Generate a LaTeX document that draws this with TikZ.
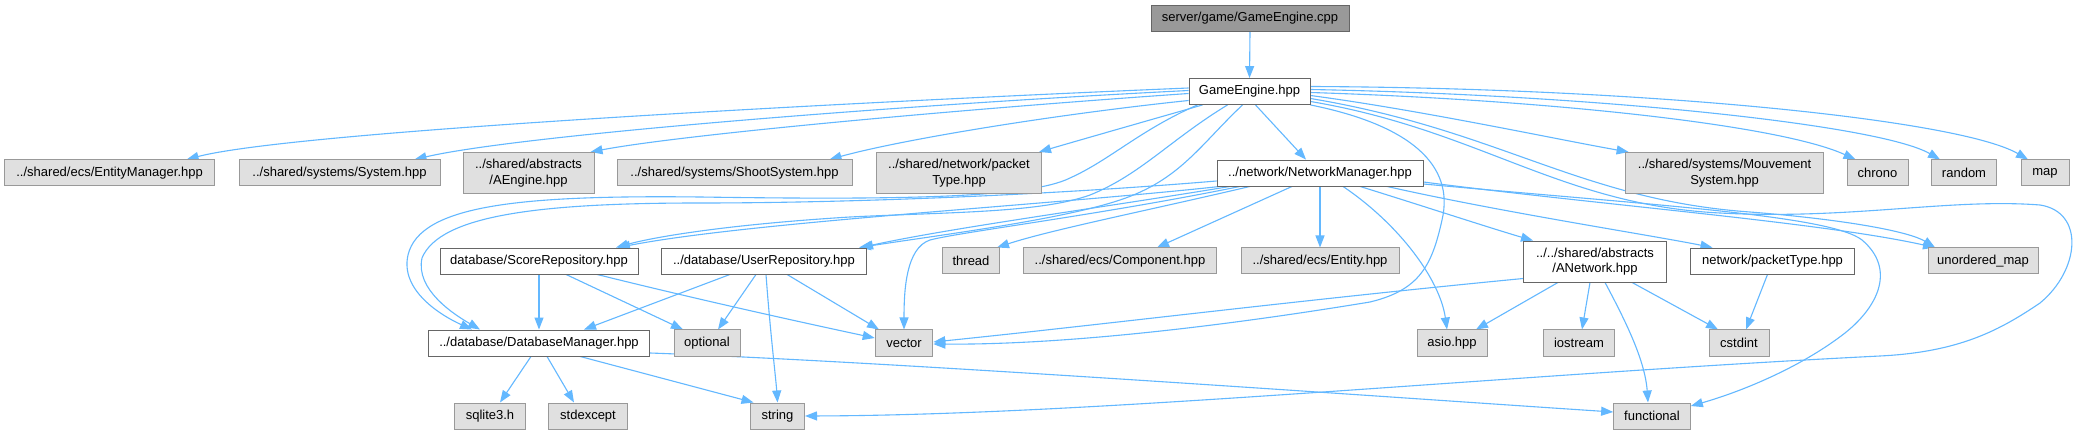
\documentclass[tikz,border=0pt]{standalone}
\usepackage{fontspec}
\setmainfont{Liberation Sans}
\usetikzlibrary{arrows.meta}
\definecolor{edgec}{HTML}{63B8FF}
\definecolor{greyfill}{HTML}{E0E0E0}
\definecolor{greydraw}{HTML}{999999}
\definecolor{whitedraw}{HTML}{666666}
\definecolor{rootfill}{HTML}{999999}
\pgfdeclarelayer{bg}
\pgfsetlayers{bg,main}
\begin{document}
\begin{tikzpicture}[x=1pt,y=-1pt,
  box/.style={rectangle, inner sep=0pt, font=\fontsize{13}{15.3}\selectfont, align=center, text=black},
  ext/.style={box, fill=greyfill, draw=greydraw, line width=1pt},
  loc/.style={box, fill=white, draw=whitedraw, line width=0.9pt},
  rootn/.style={box, fill=rootfill, draw=whitedraw, line width=0.9pt},
  one/.style={minimum height=26pt},
  two/.style={minimum height=41pt},
  dep/.style={draw=edgec, line width=1.1pt, -{Triangle[length=12pt,width=9pt]}},
]
\useasboundingbox (0,0) rectangle (2079,435);
\begin{pgfonlayer}{bg}
\fill[white] (0,0) rectangle (2079,435);
\end{pgfonlayer}

% nodes
\node[rootn, one, minimum width=198pt] (cpp) at (1250,18) {server/game/GameEngine.cpp};
\node[loc, one, minimum width=121pt] (ge) at (1249.5,91.5) {GameEngine.hpp};
\node[ext, one, minimum width=210pt] (em) at (109.6,173) {../shared/ecs/EntityManager.hpp};
\node[ext, one, minimum width=201pt] (sys) at (339.5,173) {../shared/systems/System.hpp};
\node[ext, two, minimum width=131pt] (aeng) at (528.5,173) {../shared/abstracts\\/AEngine.hpp};
\node[ext, one, minimum width=235pt] (shoot) at (734.5,173) {../shared/systems/ShootSystem.hpp};
\node[ext, two, minimum width=165.5pt] (pkt) at (959,173) {../shared/network/packet\\Type.hpp};
\node[loc, one, minimum width=206pt] (nm) at (1320,173) {../network/NetworkManager.hpp};
\node[ext, two, minimum width=198pt] (mouv) at (1724.6,173) {../shared/systems/Mouvement\\System.hpp};
\node[ext, one, minimum width=61pt] (chrono) at (1877.5,173) {chrono};
\node[ext, one, minimum width=64.6pt] (random) at (1964,173) {random};
\node[ext, one, minimum width=48pt] (map) at (2045,173) {map};
\node[loc, one, minimum width=198pt] (score) at (539,261) {database/ScoreRepository.hpp};
\node[loc, one, minimum width=204.5pt] (user) at (764,261) {../database/UserRepository.hpp};
\node[ext, one, minimum width=57pt] (thread) at (971,261) {thread};
\node[ext, one, minimum width=193pt] (comp) at (1120,261) {../shared/ecs/Component.hpp};
\node[ext, one, minimum width=158pt] (ent) at (1320,261) {../shared/ecs/Entity.hpp};
\node[loc, two, minimum width=142.6pt] (anet) at (1595,261.5) {../../shared/abstracts\\/ANetwork.hpp};
\node[loc, one, minimum width=164pt] (npkt) at (1772.5,261) {network/packetType.hpp};
\node[ext, one, minimum width=110pt] (umap) at (1983,261) {unordered\_map};
\node[loc, one, minimum width=221pt] (db) at (539,343) {../database/DatabaseManager.hpp};
\node[ext, one, minimum width=66pt] (opt) at (707,343) {optional};
\node[ext, one, minimum width=57.6pt] (vec) at (904,343) {vector};
\node[ext, one, minimum width=70pt] (asio) at (1452,343) {asio.hpp};
\node[ext, one, minimum width=71pt] (ios) at (1579,343) {iostream};
\node[ext, one, minimum width=60pt] (cstd) at (1739,343) {cstdint};
\node[ext, one, minimum width=70.5pt] (sqlite) at (490,416) {sqlite3.h};
\node[ext, one, minimum width=78.6pt] (stdexc) at (588,416) {stdexcept};
\node[ext, one, minimum width=54pt] (str) at (777.5,416) {string};
\node[ext, one, minimum width=76.7pt] (func) at (1652,416) {functional};

\begin{pgfonlayer}{bg}
% root
\draw[dep] (cpp.south) -- (ge.north);
% GameEngine.hpp
\draw[dep] ([yshift=3.5pt]ge.west) .. controls (900,100) and (300,130) .. ([xshift=77pt]em.north);
\draw[dep] ([yshift=1pt]ge.west) .. controls (900,105) and (520,135) .. ([xshift=75pt]sys.north);
\draw[dep] ([yshift=-2pt]ge.west) .. controls (950,110) and (680,135) .. ([xshift=62pt]aeng.north);
\draw[dep] ([yshift=-9pt]ge.west) .. controls (1050,115) and (900,140) .. ([xshift=95pt]shoot.north);
\draw[dep] ([xshift=-47pt]ge.south) .. controls (1150,120) and (1080,140) .. ([xshift=80pt]pkt.north);
\draw[dep] ([xshift=6pt]ge.south) -- ([xshift=-14pt]nm.north);
\draw[dep] ([yshift=-4pt]ge.east) .. controls (1420,110) and (1560,140) .. ([xshift=-96pt]mouv.north);
\draw[dep] ([yshift=-1pt]ge.east) .. controls (1550,100) and (1780,125) .. ([xshift=-22pt]chrono.north);
\draw[dep] ([yshift=2pt]ge.east) .. controls (1600,95) and (1880,125) .. ([xshift=-24pt]random.north);
\draw[dep] ([yshift=5pt]ge.east) .. controls (1650,88) and (1960,120) .. ([xshift=-17pt]map.north);
\draw[dep] ([yshift=-7pt]ge.east) .. controls (1500,130) and (1580,200) .. (1750,212) .. controls (1850,220) and (1910,232) .. ([xshift=-48pt]umap.north);
\draw[dep] ([yshift=-10pt]ge.east) .. controls (1480,130) and (1560,205) .. (1720,213) .. controls (1850,220) and (1950,198) .. (2040,205) .. controls (2085,212) and (2080,270) .. (2040,303) .. controls (2000,330) and (1960,352) .. (1880,356) .. controls (1500,375) and (1100,415) .. (str.east);
\draw[dep] (ge.south east) .. controls (1410,125) and (1455,165) .. (1442,220) .. controls (1432,265) and (1420,290) .. (1370,302) .. controls (1200,330) and (1050,345) .. ([yshift=-1pt]vec.east);
\draw[dep] ([xshift=-52pt]ge.south) .. controls (1140,130) and (1110,160) .. (1070,178) .. controls (1030,198) and (900,200) .. (700,197) .. controls (520,195) and (420,205) .. (408,255) .. controls (400,290) and (440,315) .. ([xshift=-67pt]db.north);
\draw[dep] ([xshift=-22pt]ge.south) .. controls (1170,140) and (1140,175) .. (1090,195) .. controls (1040,213) and (950,212) .. (850,217) .. controls (720,225) and (650,238) .. ([xshift=77pt]score.north);
\draw[dep] ([xshift=-7pt]ge.south) .. controls (1200,145) and (1180,180) .. (1120,200) .. controls (1060,220) and (940,235) .. ([xshift=95pt]user.north);
% NetworkManager
\draw[dep] ([yshift=-8pt]nm.west) .. controls (1050,195) and (850,203) .. (700,203) .. controls (540,203) and (440,215) .. (422,258) .. controls (415,290) and (455,315) .. ([xshift=-59pt]db.north);
\draw[dep] ([xshift=-100pt]nm.south) .. controls (1050,205) and (750,222) .. ([xshift=79pt]score.north);
\draw[dep] ([xshift=-90pt]nm.south) .. controls (1100,208) and (950,228) .. ([xshift=97pt]user.north);
\draw[dep] ([xshift=-80pt]nm.south) .. controls (1100,215) and (960,232) .. (930,240) .. controls (906,248) and (904,290) .. (vec.north);
\draw[dep] ([xshift=-70pt]nm.south) .. controls (1150,210) and (1050,230) .. ([xshift=26pt]thread.north);
\draw[dep] ([xshift=-28pt]nm.south) -- ([xshift=37pt]comp.north);
\draw[dep] (nm.south) -- (ent.north);
\draw[dep] ([xshift=23pt]nm.south) .. controls (1400,225) and (1440,280) .. ([xshift=-5pt]asio.north);
\draw[dep] ([xshift=40pt]nm.south) .. controls (1420,205) and (1490,228) .. ([xshift=-62pt]anet.north);
\draw[dep] ([xshift=67pt]nm.south) .. controls (1500,212) and (1650,235) .. ([xshift=-60pt]npkt.north);
\draw[dep] ([yshift=-9pt]nm.east) .. controls (1600,205) and (1820,222) .. ([xshift=-48pt]umap.north);
\draw[dep] ([yshift=-11pt]nm.east) .. controls (1650,205) and (1830,215) .. (1862,240) .. controls (1895,268) and (1880,305) .. (1845,333) .. controls (1800,368) and (1740,392) .. ([yshift=10pt]func.east);
% ANetwork
\draw[dep] ([yshift=-17pt]anet.west) .. controls (1300,300) and (1100,325) .. ([yshift=1pt]vec.east);
\draw[dep] ([xshift=-37pt]anet.south) -- ([xshift=24pt]asio.north);
\draw[dep] ([xshift=-5pt]anet.south) -- ([xshift=3pt]ios.north);
\draw[dep] ([xshift=10pt]anet.south) .. controls (1625,320) and (1645,360) .. ([xshift=-4pt]func.north);
\draw[dep] ([xshift=37pt]anet.south) -- ([xshift=-21pt]cstd.north);
% network/packetType
\draw[dep] ([xshift=-5pt]npkt.south) -- ([xshift=7pt]cstd.north);
% ScoreRepository
\draw[dep] (score.south) -- (db.north);
\draw[dep] ([xshift=27pt]score.south) -- ([xshift=-24pt]opt.north);
\draw[dep] ([xshift=58pt]score.south) .. controls (700,300) and (800,322) .. ([yshift=5pt]vec.west);
% UserRepository
\draw[dep] ([xshift=-34pt]user.south) -- ([xshift=45pt]db.north);
\draw[dep] ([xshift=-8pt]user.south) -- ([xshift=11pt]opt.north);
\draw[dep] ([xshift=2pt]user.south) .. controls (770,330) and (776,380) .. (str.north);
\draw[dep] ([xshift=23pt]user.south) -- ([xshift=-25pt]vec.north);
% DatabaseManager
\draw[dep] ([xshift=-8pt]db.south) -- ([xshift=10pt]sqlite.north);
\draw[dep] ([xshift=8pt]db.south) -- ([xshift=-14pt]stdexc.north);
\draw[dep] ([xshift=41pt]db.south) -- ([xshift=-24pt]str.north);
\draw[dep] ([yshift=-10pt]db.east) .. controls (900,362) and (1400,398) .. ([yshift=4pt]func.west);
\end{pgfonlayer}
\end{tikzpicture}
\end{document}
